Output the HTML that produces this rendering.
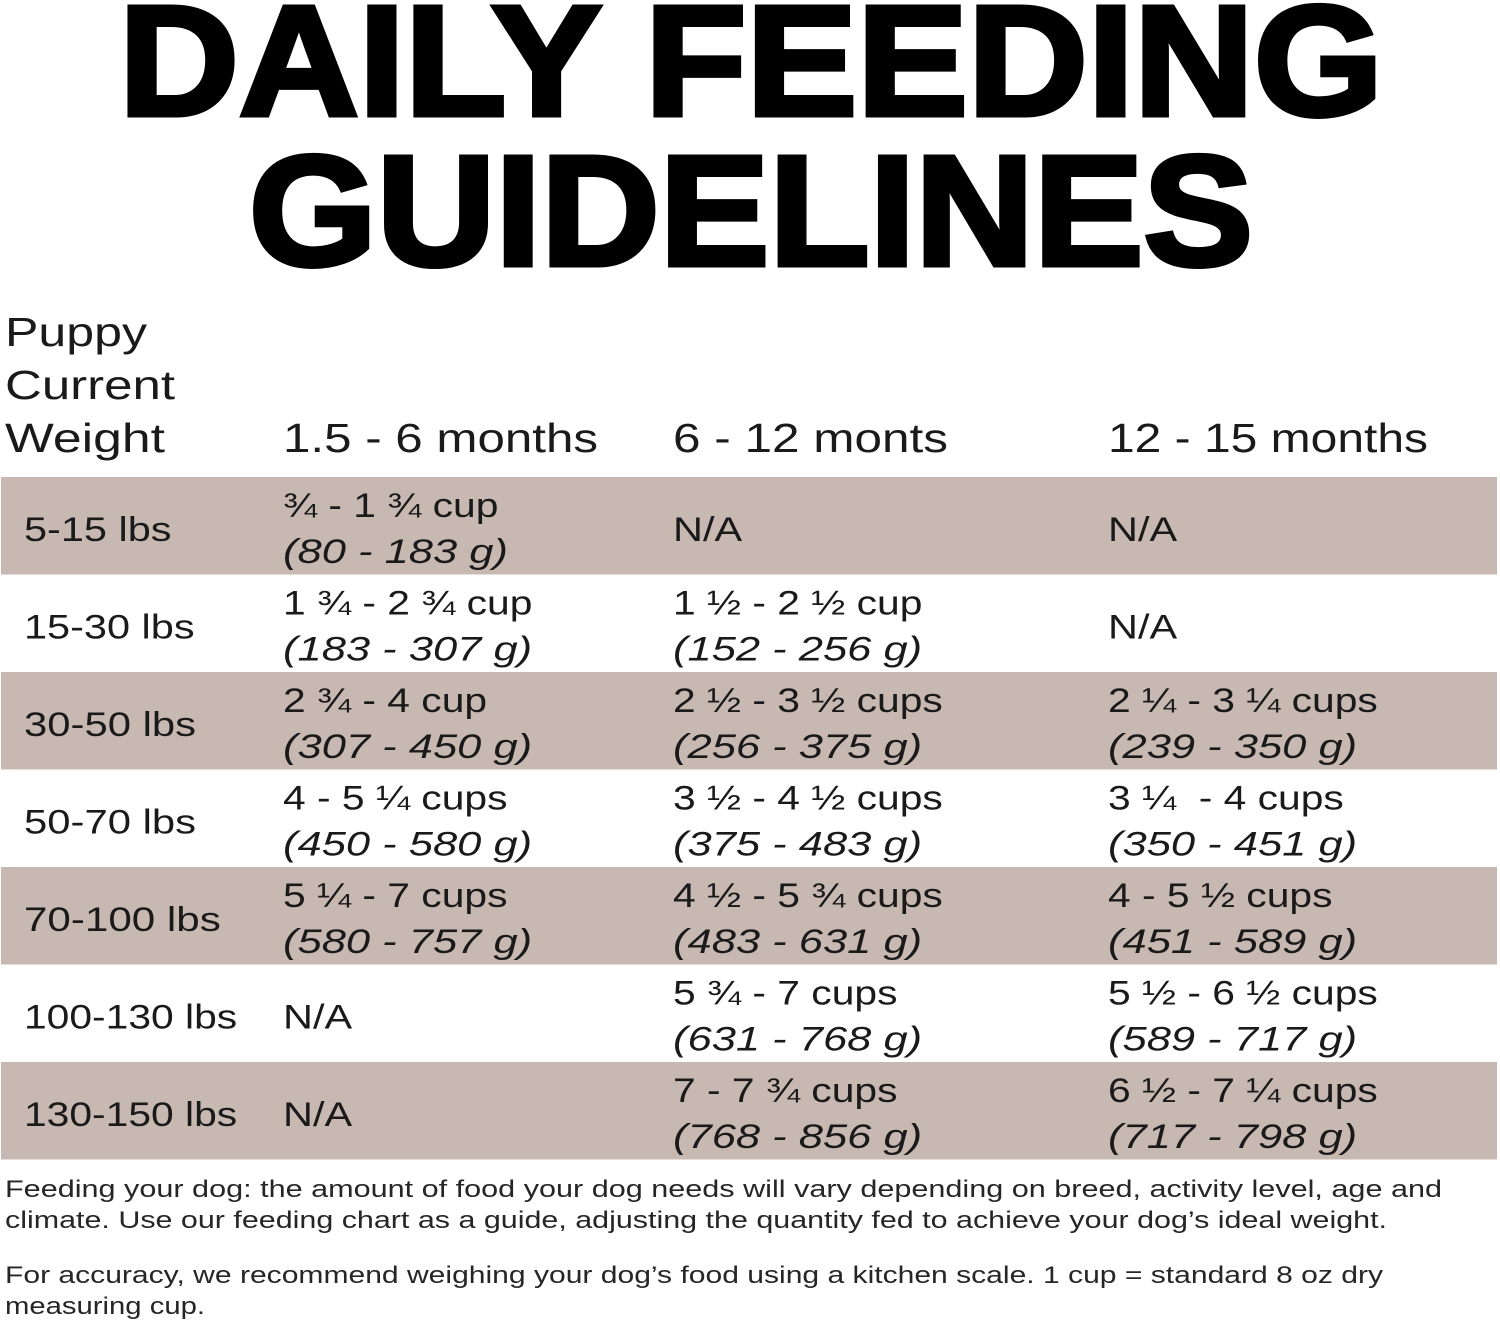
<!DOCTYPE html>
<html><head><meta charset="utf-8"><style>
html,body{margin:0;padding:0;background:#fff;}
svg{display:block;}
text{font-family:"Liberation Sans",sans-serif;fill:#1a1a1a;white-space:pre;}
.t{font-weight:bold;fill:#000;font-size:157px;stroke:#000;stroke-width:5;stroke-linejoin:miter;}
.h{font-size:41px;}
.c{font-size:34px;}
.i{font-size:34px;font-style:italic;}
.f{font-size:24px;fill:#262626;}
</style></head><body>
<svg width="1500" height="1320" viewBox="0 0 1500 1320" xmlns="http://www.w3.org/2000/svg">
<rect width="1500" height="1320" fill="#fff"/>
<text class="t" x="119" y="115" textLength="1264" lengthAdjust="spacingAndGlyphs">DAILY FEEDING</text>
<text class="t" x="249" y="265" textLength="1004" lengthAdjust="spacingAndGlyphs">GUIDELINES</text>

<text class="h" x="5" y="346" textLength="142" lengthAdjust="spacingAndGlyphs">Puppy</text>
<text class="h" x="5" y="399" textLength="170" lengthAdjust="spacingAndGlyphs">Current</text>
<text class="h" x="5" y="452" textLength="160" lengthAdjust="spacingAndGlyphs">Weight</text>
<text class="h" x="283" y="452" textLength="315" lengthAdjust="spacingAndGlyphs">1.5 - 6 months</text>
<text class="h" x="673" y="452" textLength="275" lengthAdjust="spacingAndGlyphs">6 - 12 monts</text>
<text class="h" x="1108" y="452" textLength="320" lengthAdjust="spacingAndGlyphs">12 - 15 months</text>

<rect x="1" y="477" width="1496" height="97.5" fill="#c8b8b2"/>
<rect x="1" y="672" width="1496" height="97.5" fill="#c8b8b2"/>
<rect x="1" y="867" width="1496" height="97.5" fill="#c8b8b2"/>
<rect x="1" y="1062" width="1496" height="97.5" fill="#c8b8b2"/>

<!-- Row 1 top 477 -->
<text class="c" transform="translate(24,541) scale(1.22,1)">5-15 lbs</text>
<text class="c" transform="translate(283,517) scale(1.2,1)">¾ - 1 ¾ cup</text>
<text class="i" transform="translate(283,563) scale(1.28,1)">(80 - 183 g)</text>
<text class="c" transform="translate(673,541) scale(1.22,1)">N/A</text>
<text class="c" transform="translate(1108,541) scale(1.22,1)">N/A</text>

<!-- Row 2 top 574.5 -->
<text class="c" transform="translate(24,638.5) scale(1.22,1)">15-30 lbs</text>
<text class="c" transform="translate(283,614.5) scale(1.2,1)">1 ¾ - 2 ¾ cup</text>
<text class="i" transform="translate(283,660.5) scale(1.28,1)">(183 - 307 g)</text>
<text class="c" transform="translate(673,614.5) scale(1.2,1)">1 ½ - 2 ½ cup</text>
<text class="i" transform="translate(673,660.5) scale(1.28,1)">(152 - 256 g)</text>
<text class="c" transform="translate(1108,638.5) scale(1.22,1)">N/A</text>

<!-- Row 3 top 672 -->
<text class="c" transform="translate(24,736) scale(1.23,1)">30-50 lbs</text>
<text class="c" transform="translate(283,712) scale(1.2,1)">2 ¾ - 4 cup</text>
<text class="i" transform="translate(283,758) scale(1.28,1)">(307 - 450 g)</text>
<text class="c" transform="translate(673,712) scale(1.2,1)">2 ½ - 3 ½ cups</text>
<text class="i" transform="translate(673,758) scale(1.28,1)">(256 - 375 g)</text>
<text class="c" transform="translate(1108,712) scale(1.2,1)">2 ¼ - 3 ¼ cups</text>
<text class="i" transform="translate(1108,758) scale(1.28,1)">(239 - 350 g)</text>

<!-- Row 4 top 769.5 -->
<text class="c" transform="translate(24,833.5) scale(1.23,1)">50-70 lbs</text>
<text class="c" transform="translate(283,809.5) scale(1.2,1)">4 - 5 ¼ cups</text>
<text class="i" transform="translate(283,855.5) scale(1.28,1)">(450 - 580 g)</text>
<text class="c" transform="translate(673,809.5) scale(1.2,1)">3 ½ - 4 ½ cups</text>
<text class="i" transform="translate(673,855.5) scale(1.28,1)">(375 - 483 g)</text>
<text class="c" transform="translate(1108,809.5) scale(1.2,1)">3 ¼  - 4 cups</text>
<text class="i" transform="translate(1108,855.5) scale(1.28,1)">(350 - 451 g)</text>

<!-- Row 5 top 867 -->
<text class="c" transform="translate(24,931) scale(1.24,1)">70-100 lbs</text>
<text class="c" transform="translate(283,907) scale(1.2,1)">5 ¼ - 7 cups</text>
<text class="i" transform="translate(283,953) scale(1.28,1)">(580 - 757 g)</text>
<text class="c" transform="translate(673,907) scale(1.2,1)">4 ½ - 5 ¾ cups</text>
<text class="i" transform="translate(673,953) scale(1.28,1)">(483 - 631 g)</text>
<text class="c" transform="translate(1108,907) scale(1.2,1)">4 - 5 ½ cups</text>
<text class="i" transform="translate(1108,953) scale(1.28,1)">(451 - 589 g)</text>

<!-- Row 6 top 964.5 -->
<text class="c" transform="translate(24,1028.5) scale(1.2,1)">100-130 lbs</text>
<text class="c" transform="translate(283,1028.5) scale(1.22,1)">N/A</text>
<text class="c" transform="translate(673,1004.5) scale(1.2,1)">5 ¾ - 7 cups</text>
<text class="i" transform="translate(673,1050.5) scale(1.28,1)">(631 - 768 g)</text>
<text class="c" transform="translate(1108,1004.5) scale(1.2,1)">5 ½ - 6 ½ cups</text>
<text class="i" transform="translate(1108,1050.5) scale(1.28,1)">(589 - 717 g)</text>

<!-- Row 7 top 1062 -->
<text class="c" transform="translate(24,1126) scale(1.2,1)">130-150 lbs</text>
<text class="c" transform="translate(283,1126) scale(1.22,1)">N/A</text>
<text class="c" transform="translate(673,1102) scale(1.2,1)">7 - 7 ¾ cups</text>
<text class="i" transform="translate(673,1148) scale(1.28,1)">(768 - 856 g)</text>
<text class="c" transform="translate(1108,1102) scale(1.2,1)">6 ½ - 7 ¼ cups</text>
<text class="i" transform="translate(1108,1148) scale(1.28,1)">(717 - 798 g)</text>

<text class="f" x="5" y="1197" textLength="1437" lengthAdjust="spacingAndGlyphs">Feeding your dog: the amount of food your dog needs will vary depending on breed, activity level, age and</text>
<text class="f" x="5" y="1228" textLength="1382" lengthAdjust="spacingAndGlyphs">climate. Use our feeding chart as a guide, adjusting the quantity fed to achieve your dog’s ideal weight.</text>
<text class="f" x="5" y="1283" textLength="1378" lengthAdjust="spacingAndGlyphs">For accuracy, we recommend weighing your dog’s food using a kitchen scale. 1 cup = standard 8 oz dry</text>
<text class="f" x="5" y="1314" textLength="200" lengthAdjust="spacingAndGlyphs">measuring cup.</text>
</svg>
</body></html>
